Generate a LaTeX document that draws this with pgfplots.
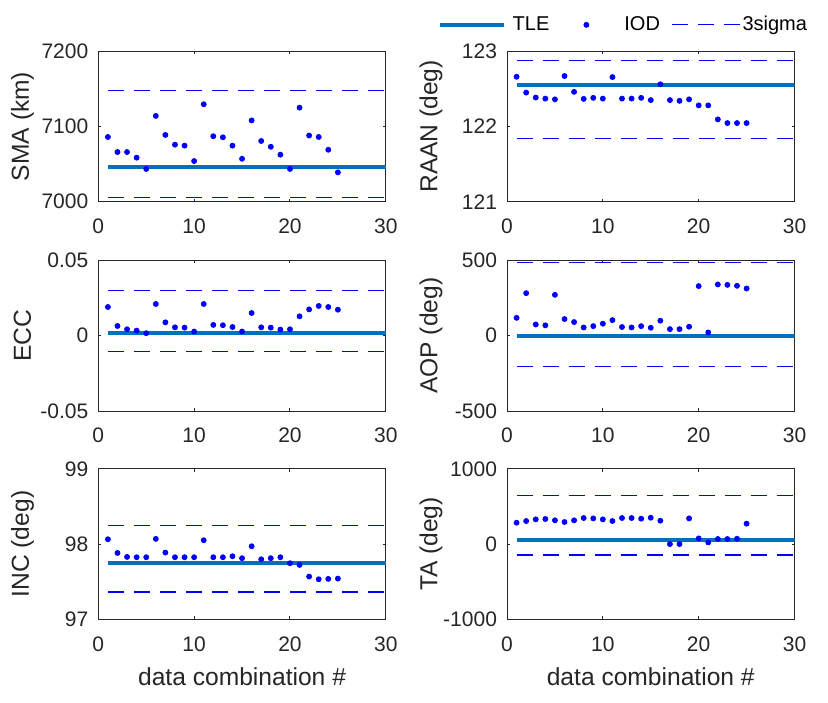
\documentclass[border=0pt]{standalone}
\usepackage{fontspec}
\setmainfont{Liberation Sans}
\usepackage{pgfplots}
\pgfplotsset{compat=1.18}
\definecolor{tleblue}{RGB}{0,114,189}
\definecolor{axgray}{RGB}{38,38,38}

\pgfplotsset{
  panel/.style={
    scale only axis, width=143.75pt, height=75.25pt,
    xmin=0, xmax=30, xtick={0,10,20,30},
    tick align=inside, major tick length=1.5pt,
    axis line style={axgray, line width=0.5pt},
    every tick/.style={axgray, line width=0.5pt},
    every tick label/.append style={font=\fontsize{10.5}{12}\selectfont, text=axgray},
    xticklabel style={yshift=-5pt},
    yticklabel style={xshift=-1.5pt},
    every axis label/.append style={font=\fontsize{12.3}{14}\selectfont, text=axgray},
    ylabel style={at={(axis description cs:-0.264,0.5)}, anchor=center},
    xlabel style={yshift=-1.5pt},
    scaled ticks=false,
    /pgf/number format/assume math mode=true,
    /pgf/number format/1000 sep={},
  },
  tle/.style={tleblue, line width=2pt, no markers},
  iod/.style={only marks, mark=*, mark size=1.25pt, mark options={draw=blue, fill=blue}},
  sig/.style={blue, line width=0.6pt, dash pattern=on 8.3pt off 4.7pt, no markers},
}

\begin{document}
\begin{tikzpicture}
\useasboundingbox (0,0) rectangle (414pt,351pt);

% SMA
\begin{axis}[panel, at={(49.15pt,250.15pt)}, anchor=south west,
  ymin=7000, ymax=7200, ytick={7000,7100,7200}, ylabel={SMA (km)}]
\addplot[tle] coordinates {(1,7046) (30,7046)};
\addplot[iod] coordinates {(1,7086) (2,7066) (3,7066) (4,7058.5) (5,7043.5)
  (6,7114) (7,7088.7) (8,7075.8) (9,7074.5) (10,7054) (11,7129.5) (12,7087)
  (13,7085.6) (14,7074.5) (15,7057) (16,7108) (17,7080.7) (18,7073) (19,7062.5)
  (20,7043.5) (21,7125) (22,7088) (23,7086) (24,7069) (25,7039)};
\addplot[sig] coordinates {(1,7148) (30,7148)};
\addplot[sig] coordinates {(1,7006) (30,7006)};
\end{axis}

% RAAN
\begin{axis}[panel, at={(253.5pt,250.15pt)}, anchor=south west,
  ymin=121, ymax=123, ytick={121,122,123}, ylabel={RAAN (deg)},
  legend columns=3,
  legend style={draw=none, fill=none, at={(axis description cs:1.045,1.175)},
    anchor=east, inner sep=0pt, font=\fontsize{10}{12}\selectfont, text=black,
    nodes={inner sep=0pt},
    /tikz/column 2/.style={column sep=2pt},
    /tikz/column 4/.style={column sep=5.5pt}},
  legend cell align=left]
\addplot[tle, legend image code/.code={\draw[tleblue, line width=2pt] (0pt,0pt) -- (32pt,0pt); \path[draw=none] (36.5pt,0pt);}]
  coordinates {(1,122.554) (30,122.554)};
\addlegendentry{TLE}
\addplot[iod, legend image code/.code={\path[draw=none, fill=none] (0pt,-0.1pt) rectangle (35.5pt,0.1pt); \fill[blue] (16.5pt,0pt) circle (1.25pt);}]
  coordinates {(1,122.66) (2,122.45) (3,122.384) (4,122.37) (5,122.36)
  (6,122.67) (7,122.46) (8,122.366) (9,122.38) (10,122.37) (11,122.656)
  (12,122.37) (13,122.37) (14,122.38) (15,122.35) (16,122.56) (17,122.35)
  (18,122.34) (19,122.36) (20,122.28) (21,122.28) (22,122.094) (23,122.045)
  (24,122.045) (25,122.045)};
\addlegendentry{IOD}
\addplot[sig, legend image code/.code={\draw[blue, line width=0.6pt, dash pattern=on 8.3pt off 4.7pt] (0pt,0pt) -- (34.3pt,0pt); \path[draw=none] (35.5pt,0pt);}]
  coordinates {(1,122.875) (30,122.875)};
\addlegendentry{3sigma}
\addplot[sig, forget plot] coordinates {(1,121.844) (30,121.844)};
\end{axis}

% ECC
\begin{axis}[panel, at={(49.15pt,145.5pt)}, anchor=south west,
  ymin=-0.05, ymax=0.05, ytick={-0.05,0,0.05}, ylabel={ECC},
  yticklabel style={/pgf/number format/fixed, /pgf/number format/precision=2}]
\addplot[tle] coordinates {(1,0.0019) (30,0.0019)};
\addplot[iod] coordinates {(1,0.0191) (2,0.0065) (3,0.0043) (4,0.0034) (5,0.0017)
  (6,0.0211) (7,0.0089) (8,0.0056) (9,0.0054) (10,0.0028) (11,0.0211) (12,0.0072)
  (13,0.0070) (14,0.0058) (15,0.0028) (16,0.0151) (17,0.0056) (18,0.0054)
  (19,0.0041) (20,0.0043) (21,0.0129) (22,0.0175) (23,0.0198) (24,0.0191) (25,0.0173)};
\addplot[sig] coordinates {(1,0.0299) (30,0.0299)};
\addplot[sig] coordinates {(1,-0.0105) (30,-0.0105)};
\end{axis}

% AOP
\begin{axis}[panel, at={(253.5pt,145.5pt)}, anchor=south west,
  ymin=-500, ymax=500, ytick={-500,0,500}, ylabel={AOP (deg)}]
\addplot[tle] coordinates {(1,0) (30,0)};
\addplot[iod] coordinates {(1,119) (2,283) (3,75) (4,69) (5,272) (6,111) (7,91)
  (8,55) (9,64) (10,80) (11,104) (12,58) (13,55) (14,64) (15,53) (16,100) (17,44)
  (18,44) (19,60) (20,330) (21,22) (22,341) (23,338) (24,332) (25,314)};
\addplot[sig] coordinates {(1,484.5) (30,484.5)};
\addplot[sig] coordinates {(1,-205.7) (30,-205.7)};
\end{axis}

% INC
\begin{axis}[panel, at={(49.15pt,41.35pt)}, anchor=south west,
  ymin=97, ymax=99, ytick={97,98,99}, ylabel={INC (deg)},
  xlabel={data combination \#}]
\addplot[tle] coordinates {(1,97.754) (30,97.754)};
\addplot[iod] coordinates {(1,98.064) (2,97.882) (3,97.829) (4,97.825) (5,97.825)
  (6,98.069) (7,97.887) (8,97.825) (9,97.825) (10,97.825) (11,98.051) (12,97.825)
  (13,97.825) (14,97.838) (15,97.812) (16,97.971) (17,97.798) (18,97.812)
  (19,97.825) (20,97.745) (21,97.723) (22,97.568) (23,97.532) (24,97.537) (25,97.541)};
\addplot[sig] coordinates {(1,98.246) (30,98.246)};
\addplot[sig] coordinates {(1,97.364) (30,97.364)};
\end{axis}

% TA
\begin{axis}[panel, at={(253.5pt,41.35pt)}, anchor=south west,
  ymin=-1000, ymax=1000, ytick={-1000,0,1000}, ylabel={TA (deg)},
  xlabel={data combination \#}]
\addplot[tle] coordinates {(1,49) (30,49)};
\addplot[iod] coordinates {(1,284) (2,306) (3,328) (4,333) (5,315) (6,293) (7,315)
  (8,346) (9,341) (10,328) (11,306) (12,346) (13,346) (14,337) (15,350) (16,310)
  (17,0) (18,0) (19,341) (20,75) (21,22) (22,67) (23,67) (24,71) (25,271)};
\addplot[sig] coordinates {(1,643) (30,643)};
\addplot[sig] coordinates {(1,-146) (30,-146)};
\end{axis}
\end{tikzpicture}
\end{document}
